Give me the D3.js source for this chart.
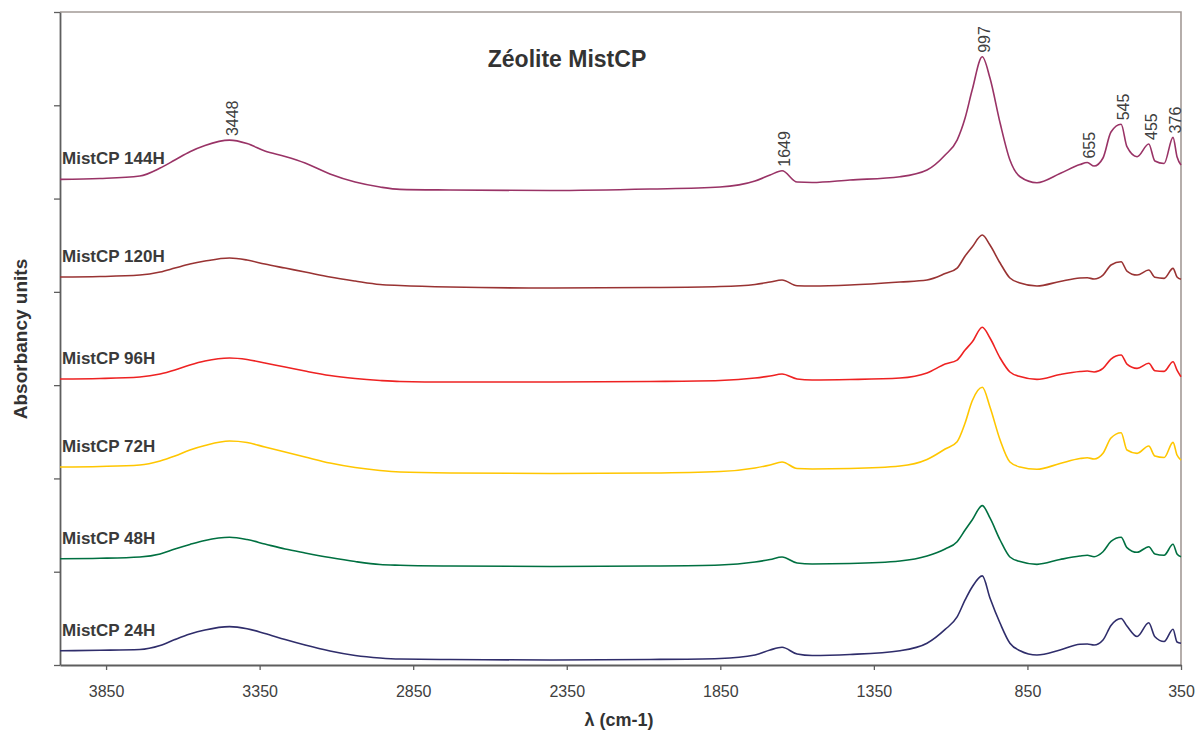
<!DOCTYPE html>
<html>
<head>
<meta charset="utf-8">
<script src="https://cdn.jsdelivr.net/npm/d3@7"></script>
<style>
  html, body { margin: 0; padding: 0; background: #fff; }
  svg { display: block; font-family: "Liberation Sans", Arial, sans-serif; }
</style>
</head>
<body>
<svg id="chart" width="1196" height="733"></svg>
<script>
// ---------- DATA ----------
const wavenumbers = [4000,3870,3740,3674,3626,3577,3528,3448,3391,3333,3267,3202,3121,3039,2958,2893,2730,2405,2079,1851,1737,1688,1649,1600,1551,1428,1265,1177,1118,1079,1053,1030,997,972,939,907,874,819,744,679,655,633,604,578,545,526,493,455,435,405,376,363,350];

const seriesNames = ["MistCP 144H","MistCP 120H","MistCP 96H","MistCP 72H","MistCP 48H","MistCP 24H"];
const seriesColors = ["#993366","#993333","#EE2222","#FFC600","#007041","#2F2D6B"];

const abs144 = [5.206,5.215,5.242,5.327,5.413,5.502,5.569,5.627,5.590,5.510,5.451,5.381,5.263,5.177,5.124,5.099,5.092,5.086,5.102,5.124,5.188,5.252,5.298,5.177,5.172,5.199,5.234,5.306,5.467,5.627,5.863,6.163,6.520,6.292,5.810,5.413,5.234,5.170,5.268,5.365,5.386,5.349,5.435,5.713,5.796,5.556,5.449,5.585,5.402,5.376,5.656,5.449,5.360];
const abs120 = [4.159,4.164,4.180,4.213,4.255,4.298,4.330,4.363,4.341,4.298,4.255,4.213,4.159,4.116,4.079,4.068,4.052,4.041,4.046,4.057,4.079,4.105,4.127,4.066,4.063,4.073,4.105,4.127,4.196,4.255,4.384,4.481,4.609,4.502,4.309,4.148,4.095,4.063,4.111,4.148,4.151,4.138,4.180,4.288,4.323,4.223,4.180,4.234,4.156,4.145,4.252,4.159,4.134];
const abs96  = [3.066,3.071,3.087,3.119,3.162,3.216,3.259,3.291,3.275,3.237,3.194,3.151,3.103,3.071,3.050,3.039,3.033,3.033,3.039,3.050,3.076,3.098,3.119,3.066,3.055,3.060,3.076,3.130,3.226,3.269,3.376,3.462,3.620,3.505,3.291,3.141,3.092,3.062,3.114,3.146,3.151,3.141,3.180,3.280,3.323,3.226,3.180,3.234,3.155,3.148,3.251,3.162,3.090];
const abs72  = [2.122,2.128,2.144,2.187,2.240,2.305,2.353,2.401,2.385,2.337,2.283,2.230,2.165,2.117,2.085,2.069,2.058,2.053,2.058,2.074,2.112,2.144,2.176,2.106,2.101,2.106,2.133,2.203,2.315,2.394,2.594,2.830,2.977,2.766,2.412,2.176,2.122,2.098,2.160,2.213,2.222,2.208,2.269,2.433,2.490,2.305,2.269,2.347,2.240,2.224,2.387,2.251,2.197];
const abs48  = [1.139,1.144,1.158,1.190,1.243,1.292,1.335,1.369,1.345,1.297,1.243,1.201,1.152,1.109,1.077,1.069,1.061,1.056,1.061,1.072,1.104,1.131,1.158,1.093,1.083,1.088,1.115,1.168,1.243,1.322,1.447,1.554,1.708,1.576,1.340,1.158,1.109,1.079,1.131,1.168,1.176,1.161,1.214,1.324,1.369,1.259,1.208,1.268,1.190,1.177,1.294,1.190,1.161];
const abs24  = [0.153,0.158,0.166,0.209,0.273,0.332,0.375,0.411,0.389,0.338,0.273,0.214,0.150,0.102,0.075,0.064,0.059,0.054,0.059,0.070,0.107,0.161,0.190,0.118,0.102,0.113,0.153,0.233,0.381,0.515,0.697,0.836,0.955,0.718,0.447,0.233,0.153,0.107,0.161,0.222,0.225,0.214,0.268,0.423,0.498,0.418,0.305,0.453,0.303,0.252,0.383,0.247,0.233];

const seriesValues = [abs144, abs120, abs96, abs72, abs48, abs24];

const peakLabels = [3448, 1649, 997, 655, 545, 455, 376];
const xTickValues = [3850, 3350, 2850, 2350, 1850, 1350, 850, 350];
const yTickValues = [0, 1, 2, 3, 4, 5, 6, 7];

const titleText = "Zéolite MistCP";
const xAxisTitle = "λ (cm-1)";
const yAxisTitle = "Absorbancy units";

// ---------- LAYOUT ----------
const svg = d3.select("#chart");
const plot = { left: 60, right: 1181, top: 12, bottom: 665 };

const x = d3.scaleLinear().domain([4000, 350]).range([plot.left, plot.right]);
const y = d3.scaleLinear().domain([0, 7]).range([plot.bottom, plot.top]);

// border (top + right)
svg.append("path")
  .attr("d", `M${plot.left},${plot.top}H${plot.right}V${plot.bottom}`)
  .attr("fill", "none")
  .attr("stroke", "#A39A96")
  .attr("stroke-width", 1.6);

// y axis
const yAxis = svg.append("g")
  .attr("transform", `translate(${plot.left},0)`)
  .call(d3.axisLeft(y).tickValues(yTickValues).tickFormat("").tickSize(6).tickSizeOuter(0));
yAxis.select(".domain").attr("stroke", "#5E5E5E").attr("stroke-width", 1.8);
yAxis.selectAll(".tick line").attr("stroke", "#5E5E5E").attr("stroke-width", 1.3);

// x axis
const xAxis = svg.append("g")
  .attr("transform", `translate(0,${plot.bottom})`)
  .call(d3.axisBottom(x).tickValues(xTickValues).tickFormat(d3.format("d")).tickSize(5).tickSizeOuter(0));
xAxis.select(".domain").attr("stroke", "#5E5E5E").attr("stroke-width", 1.8);
xAxis.selectAll(".tick line").attr("stroke", "#5E5E5E").attr("stroke-width", 1.3);
xAxis.selectAll(".tick text")
  .attr("y", 32).attr("dy", 0)
  .attr("fill", "#404040")
  .style("font-size", "16px")
  .style("font-family", "'Liberation Sans', Arial, sans-serif");

// lines
const line = d3.line()
  .x((d, i) => x(wavenumbers[i]))
  .y(d => y(d))
  .curve(d3.curveMonotoneX);

seriesValues.forEach((vals, k) => {
  svg.append("path")
    .datum(vals)
    .attr("fill", "none")
    .attr("stroke", seriesColors[k])
    .attr("stroke-width", 1.6)
    .attr("stroke-linejoin", "round")
    .attr("d", line);

  svg.append("text")
    .attr("x", plot.left + 2)
    .attr("y", y(vals[0]) - 15)
    .attr("fill", "#3A3A3A")
    .style("font-size", "17px")
    .style("font-weight", "bold")
    .text(seriesNames[k]);
});

// peak annotations (above top series)
peakLabels.forEach(w => {
  const i = wavenumbers.indexOf(w);
  const px = x(w) + 8;
  const py = y(abs144[i]) - 4;
  svg.append("text")
    .attr("transform", `translate(${px},${py}) rotate(-90)`)
    .attr("fill", "#404040")
    .style("font-size", "16px")
    .text(String(w));
});

// title
svg.append("text")
  .attr("x", 567).attr("y", 67)
  .attr("text-anchor", "middle")
  .attr("fill", "#333")
  .style("font-size", "23px")
  .style("font-weight", "bold")
  .text(titleText);

// x axis title
svg.append("text")
  .attr("x", 619).attr("y", 726)
  .attr("text-anchor", "middle")
  .attr("fill", "#333")
  .style("font-size", "18px")
  .style("font-weight", "bold")
  .text(xAxisTitle);

// y axis title
svg.append("text")
  .attr("transform", `translate(27,339) rotate(-90)`)
  .attr("text-anchor", "middle")
  .attr("fill", "#333")
  .style("font-size", "19px")
  .style("font-weight", "bold")
  .text(yAxisTitle);
</script>
</body>
</html>
